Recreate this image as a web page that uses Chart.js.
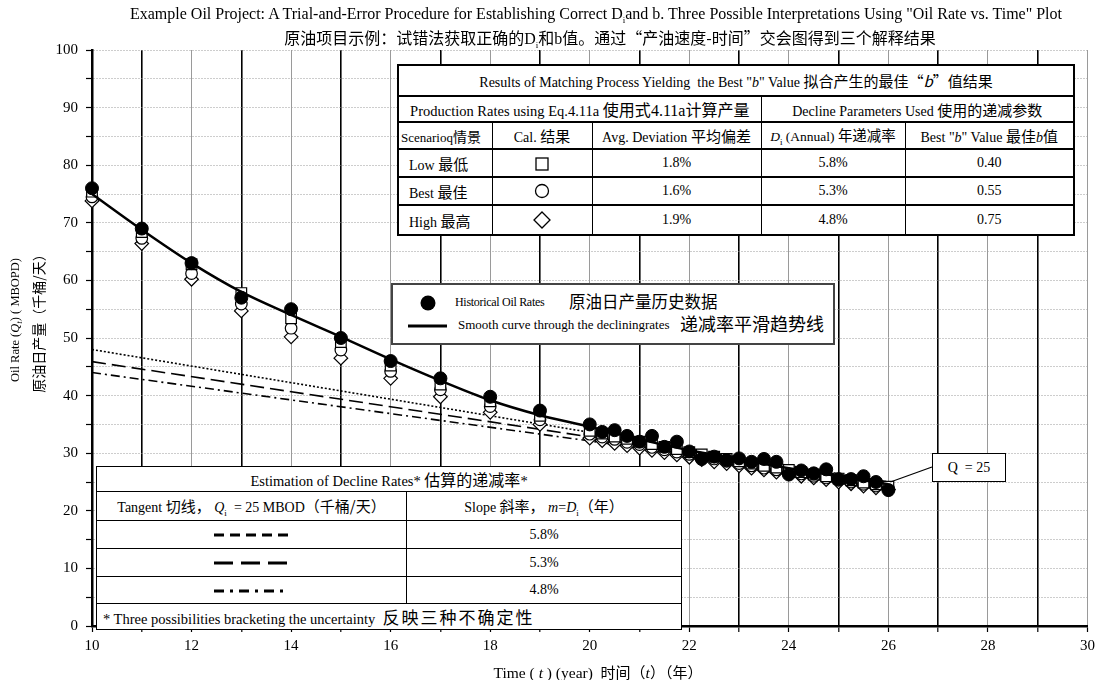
<!DOCTYPE html>
<html><head><meta charset="utf-8">
<script src="https://cdn.jsdelivr.net/npm/chart.js@4"></script>
<style>
body{margin:0;background:#fff;}
#wrap{position:relative;width:1100px;height:680px;font-family:'Liberation Serif','Noto Sans CJK SC',serif;color:#000;overflow:hidden;}
canvas{position:absolute;left:0;top:0;}
.ov{position:absolute;white-space:nowrap;}
.cjk{font-family:'Noto Sans CJK SC',sans-serif;}
table{position:absolute;border-collapse:collapse;background:#fff;table-layout:fixed;}
td{padding:0;text-align:center;white-space:nowrap;overflow:hidden;font-size:14px;}
#tt{left:397px;top:64px;width:676px;border:2px solid #000;}
#tt td{border-top:2px solid #000;border-bottom:2px solid #000;border-left:1.5px solid #000;border-right:1.5px solid #000;}
#tt .c{font-size:15px;}
#bt{left:96px;top:466px;width:585px;border:1.5px solid #000;}
#bt td{border:1.2px solid #000;}
#bt .c{font-size:15px;}
sub{font-size:9px;}
</style></head>
<body><div id="wrap">
<canvas id="c" width="1100" height="680"></canvas>

<div class="ov" style="left:96px;width:1000px;top:5px;text-align:center;font-size:16px;">Example Oil Project: A Trial-and-Error Procedure for Establishing Correct D<sub>i</sub>and b. Three Possible Interpretations Using "Oil Rate vs. Time" Plot</div>
<div class="ov" style="left:110px;width:1000px;top:25px;text-align:center;font-size:16px;"><span class="cjk">原油项目示例：试错法获取正确的</span>D<sub>i</sub><span class="cjk">和</span>b<span class="cjk">值。通过“产油速度-时间”交会图得到三个解释结果</span></div>

<div class="ov" style="left:16px;top:320px;transform:translate(-50%,-50%) rotate(-90deg);font-size:12.5px;">Oil Rate (<i>Q</i><sub><i>t</i></sub>) ( MBOPD)</div>
<div class="ov cjk" style="left:38px;top:320px;transform:translate(-50%,-50%) rotate(-90deg);font-size:14px;">原油日产量（千桶/天）</div>

<div class="ov" style="left:598px;top:671px;transform:translate(-50%,-50%);font-size:15.5px;">Time ( <i>t</i> ) (year) &nbsp;<span class="cjk" style="font-size:15px">时间（</span><i>t</i><span class="cjk" style="font-size:15px">）（年）</span></div>

<table id="tt">
<colgroup><col style="width:94px"><col style="width:100px"><col style="width:169px"><col style="width:144px"><col style="width:169px"></colgroup>
<tr style="height:31px"><td colspan="5">Results of Matching Process Yielding &nbsp;the Best "<i>b</i>" Value <span class="cjk c">拟合产生的最佳“<i>b</i>”值结果</span></td></tr>
<tr style="height:26px"><td colspan="3" style="font-size:14.5px">Production Rates using Eq.4.11a <span class="cjk c" style="font-size:16px">使用式</span><span style="font-size:16px">4.11a</span><span class="cjk c" style="font-size:16px">计算产量</span></td><td colspan="2">Decline Parameters Used <span class="cjk c">使用的递减参数</span></td></tr>
<tr style="height:27px"><td style="text-align:left;font-size:13px;padding-left:2px">Scenarioq<span class="cjk" style="font-size:14px">情景</span></td><td>Cal. <span class="cjk c">结果</span></td><td>Avg. Deviation <span class="cjk c">平均偏差</span></td><td style="font-size:13.5px"><i>D</i><sub>i</sub> (Annual) <span class="cjk" style="font-size:14.5px">年递减率</span></td><td>Best "<i>b</i>" Value <span class="cjk c">最佳</span><i>b</i><span class="cjk c">值</span></td></tr>
<tr style="height:28px"><td style="text-align:left;padding-left:10px">Low <span class="cjk c">最低</span></td><td><svg width="14" height="14" style="vertical-align:middle"><rect x="1" y="1" width="12" height="12" fill="#fff" stroke="#000" stroke-width="1.3"/></svg></td><td>1.8%</td><td>5.8%</td><td>0.40</td></tr>
<tr style="height:28px"><td style="text-align:left;padding-left:10px">Best <span class="cjk c">最佳</span></td><td><svg width="16" height="16" style="vertical-align:middle"><circle cx="8" cy="8" r="6.5" fill="#fff" stroke="#000" stroke-width="1.3"/></svg></td><td>1.6%</td><td>5.3%</td><td>0.55</td></tr>
<tr style="height:30px"><td style="text-align:left;padding-left:10px">High <span class="cjk c">最高</span></td><td><svg width="18" height="18" style="vertical-align:middle"><polygon points="9,1 17,9 9,17 1,9" fill="#fff" stroke="#000" stroke-width="1.3"/></svg></td><td>1.9%</td><td>4.8%</td><td>0.75</td></tr>
</table>

<div class="ov" style="left:391px;top:283px;width:440px;height:58px;border:2px solid #444;background:#fff;"></div>
<svg class="ov" style="left:391px;top:283px" width="444" height="62">
<circle cx="37" cy="20" r="7.5" fill="#000"/>
<line x1="17" y1="43" x2="56" y2="43" stroke="#000" stroke-width="3"/>
</svg>
<div class="ov" style="left:455px;top:295px;font-size:12px;letter-spacing:-0.3px;">Historical Oil Rates</div>
<div class="ov cjk" style="left:569px;top:289px;font-size:16.5px;">原油日产量历史数据</div>
<div class="ov" style="left:458px;top:317px;font-size:13px;">Smooth curve through the decliningrates</div>
<div class="ov cjk" style="left:680px;top:310px;font-size:18px;">递减率平滑趋势线</div>

<table id="bt">
<colgroup><col style="width:310px"><col style="width:275px"></colgroup>
<tr style="height:23px"><td colspan="2" style="font-size:14.5px">Estimation of Decline Rates* <span class="cjk" style="font-size:16px">估算的递减率</span>*</td></tr>
<tr style="height:29px"><td>Tangent <span class="cjk c">切线，</span> <i>Q</i><sub>i</sub> &nbsp;= 25 MBOD<span class="cjk c">（千桶/天）</span></td><td>Slope <span class="cjk c">斜率，</span> <i>m</i>=<i>D</i><sub>i</sub><span class="cjk c">（年）</span></td></tr>
<tr style="height:28px"><td><svg width="80" height="8" style="vertical-align:middle"><line x1="2" y1="4" x2="76" y2="4" stroke="#000" stroke-width="3" stroke-dasharray="10,6"/></svg></td><td>5.8%</td></tr>
<tr style="height:28px"><td><svg width="80" height="8" style="vertical-align:middle"><line x1="2" y1="4" x2="76" y2="4" stroke="#000" stroke-width="3" stroke-dasharray="19,8"/></svg></td><td>5.3%</td></tr>
<tr style="height:27px"><td><svg width="80" height="8" style="vertical-align:middle"><line x1="2" y1="4" x2="76" y2="4" stroke="#000" stroke-width="3" stroke-dasharray="10,6,3,6"/></svg></td><td>4.8%</td></tr>
<tr style="height:21px"><td colspan="2" style="text-align:left;padding-left:6px;font-size:14.5px">* Three possibilities bracketing the uncertainty &nbsp;<span class="cjk" style="font-size:17px;letter-spacing:2px">反映三种不确定性</span></td></tr>
</table>

<div class="ov" style="left:932px;top:453px;width:72px;height:27px;border:1.2px solid #000;background:#fff;text-align:center;line-height:27px;font-size:14px;">Q &nbsp;= 25</div>
</div>
<script>
// Historical oil rates
const histT = [10,11,12,13,14,15,16,17,18,19,20,20.25,20.5,20.75,21,21.25,21.5,21.75,22,22.25,22.5,22.75,23,23.25,23.5,23.75,24,24.25,24.5,24.75,25,25.25,25.5,25.75,26];
const histQ = [76.0,69.0,63.0,57.0,55.0,50.0,46.0,43.0,39.8,37.4,35.0,33.7,34.0,33.0,32.0,33.0,31.1,32.0,30.3,29.0,29.4,28.8,29.1,28.5,29.0,28.5,26.3,27.0,26.5,27.2,25.5,25.5,26.0,25.0,23.6];
// Calculated rates (Eq. 4.11a) for the three scenarios
const lowQ  = [75.4,68.4,62.8,57.8,53.4,49.3,45.2,41.9,39.0,36.5,33.9,33.4,32.9,32.5,32.0,31.6,31.1,30.7,30.2,29.8,29.4,29.0,28.6,28.2,27.8,27.5,27.1,26.7,26.3,26.0,25.6,25.3,24.9,24.6,24.2];
const bestQ = [74.5,67.3,61.2,55.9,51.7,47.9,44.2,41.0,38.1,35.8,33.3,32.8,32.4,31.9,31.5,31.0,30.6,30.2,29.8,29.4,29.0,28.6,28.2,27.8,27.4,27.1,26.7,26.4,26.0,25.7,25.3,25.0,24.6,24.3,23.9];
const highQ = [73.8,66.4,60.2,54.7,50.2,46.5,43.0,39.8,37.1,35.0,32.6,32.2,31.7,31.3,30.9,30.5,30.1,29.7,29.3,28.9,28.5,28.2,27.8,27.4,27.1,26.7,26.4,26.0,25.7,25.4,25.0,24.7,24.3,24.0,23.7];
// Smooth curve through the declining rates
const curveT = [10,11,12,13,14,15,16,17,18,19,20,21,22,23,24,25,26];
const curveQ = [75.0,68.8,63.0,58.0,54.0,50.2,46.3,42.6,39.2,36.6,34.6,32.4,30.5,28.9,27.4,26.0,24.6];
// Tangent lines through Q = 25
const tanT = [10,26];
const tan58 = [48.0,25.0];
const tan53 = [45.9,25.0];
const tan48 = [44.0,25.0];
// Axis ticks
const xTickLabels = [10,12,14,16,18,20,22,24,26,28,30];
const yTickLabels = [0,10,20,30,40,50,60,70,80,90,100];

const pts = (xs, ys) => xs.map((x,i)=>({x:x, y:ys[i]}));
const FONT = {family:"'Liberation Serif', serif", size:15};

const pointer = {
  id:'pointer',
  afterDatasetsDraw(chart){
    const {ctx, scales:{x,y}} = chart;
    ctx.save();
    ctx.strokeStyle = '#000'; ctx.lineWidth = 1.2;
    ctx.beginPath();
    ctx.moveTo(x.getPixelForValue(26)+2, y.getPixelForValue(25));
    ctx.lineTo(932, 467);
    ctx.stroke();
    ctx.restore();
  }
};

new Chart(document.getElementById('c'), {
  type:'scatter',
  data:{datasets:[
    {label:'Historical Oil Rates', data:pts(histT,histQ), pointRadius:6.5, pointBackgroundColor:'#000', pointBorderColor:'#000', pointBorderWidth:1, clip:false},
    {label:'Smooth curve', data:pts(curveT,curveQ), showLine:true, borderColor:'#000', borderWidth:2.5, pointRadius:0, tension:0.4, cubicInterpolationMode:'monotone'},
    {label:'Low', data:pts(histT,lowQ), pointStyle:'rect', pointRadius:7.5, pointBackgroundColor:'#fff', pointBorderColor:'#000', pointBorderWidth:1.2, clip:false},
    {label:'Best', data:pts(histT,bestQ), pointStyle:'circle', pointRadius:5.8, pointBackgroundColor:'#fff', pointBorderColor:'#000', pointBorderWidth:1.2, clip:false},
    {label:'High', data:pts(histT,highQ), pointStyle:'rectRot', pointRadius:6.8, pointBackgroundColor:'#fff', pointBorderColor:'#000', pointBorderWidth:1.2, clip:false},
    {label:'5.8%', data:pts(tanT,tan58), showLine:true, borderColor:'#000', borderWidth:1.6, borderDash:[2,2], pointRadius:0},
    {label:'5.3%', data:pts(tanT,tan53), showLine:true, borderColor:'#000', borderWidth:1.6, borderDash:[14,6], pointRadius:0},
    {label:'4.8%', data:pts(tanT,tan48), showLine:true, borderColor:'#000', borderWidth:1.6, borderDash:[9,4,2,4], pointRadius:0}
  ]},
  options:{
    animation:false, responsive:false, devicePixelRatio:1,
    layout:{padding:{top:50,right:10,left:0,bottom:0}},
    plugins:{legend:{display:false}, tooltip:{enabled:false}, title:{display:false}},
    scales:{
      x:{type:'linear', min:10, max:30,
        afterFit:s=>{s.height=54;},
        ticks:{stepSize:1, autoSkip:false, maxRotation:0, padding:5, color:'#000', font:FONT,
          callback:v=> xTickLabels.includes(v) ? String(v) : ''},
        grid:{color:c=> (c.tick && Math.round(c.tick.value)%2===1) ? '#000' : '#9a9a9a',
              lineWidth:c=> (c.tick && Math.round(c.tick.value)%2===1) ? 1.6 : 1,
              drawTicks:true, tickLength:6, tickColor:'#000', tickWidth:1.2},
        border:{display:true, color:'#000', width:2.5}
      },
      y:{min:0, max:100,
        afterFit:s=>{s.width=92;},
        ticks:{stepSize:5, autoSkip:false, padding:8, color:'#000', font:FONT,
          callback:v=> yTickLabels.includes(v) ? String(v) : ''},
        grid:{color:'#9a9a9a', lineWidth:1, drawTicks:true, tickLength:6, tickColor:'#000', tickWidth:1.2},
        border:{display:true, color:'#000', width:2.5, dash:[1,2]}
      }
    }
  },
  plugins:[pointer]
});
</script>
</body></html>
